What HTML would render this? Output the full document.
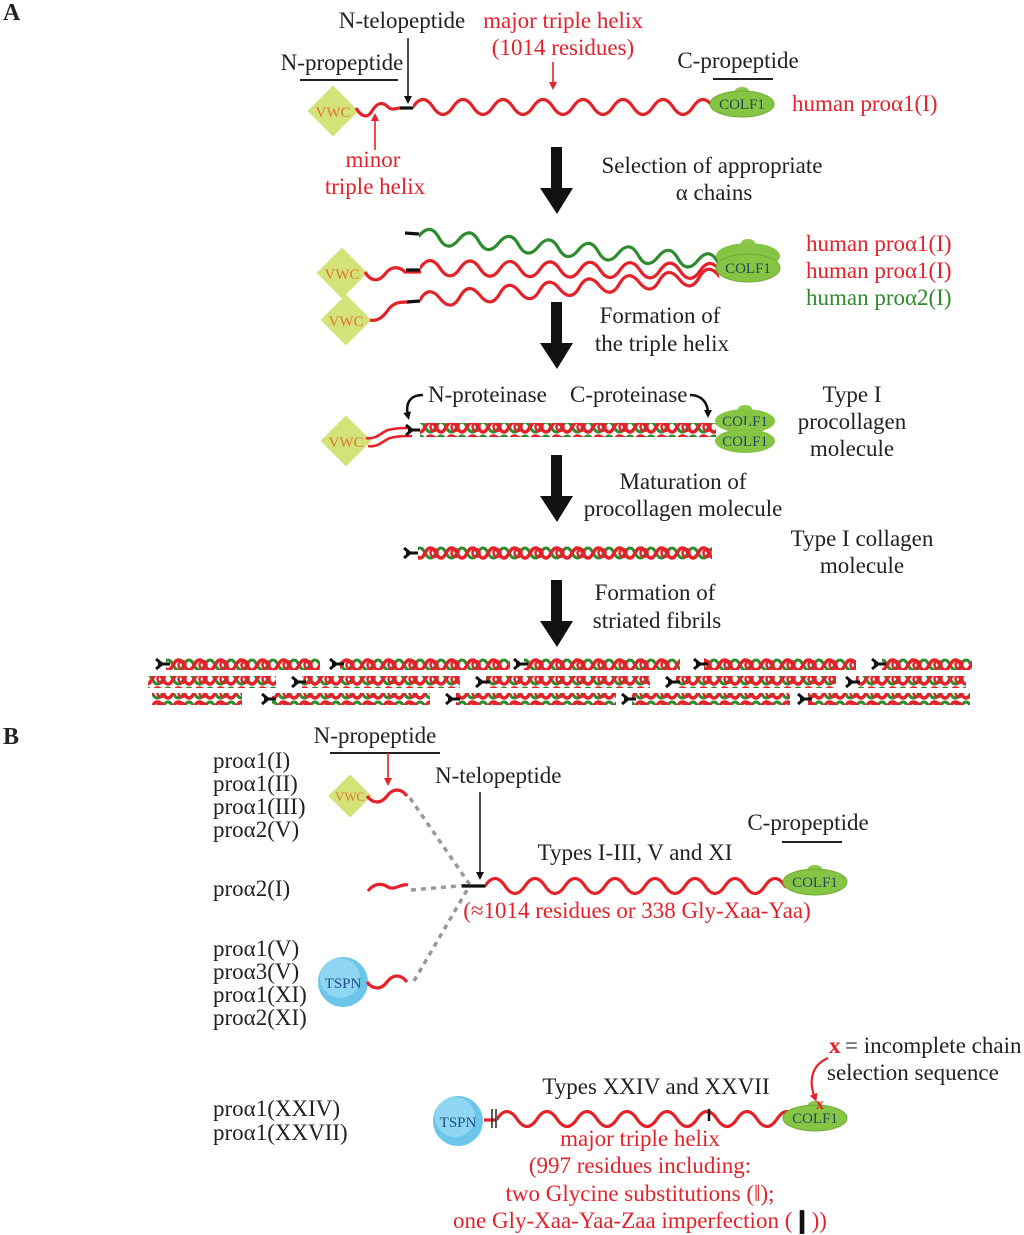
<!DOCTYPE html>
<html><head><meta charset="utf-8"><style>
html,body{margin:0;padding:0;background:#fff;}
svg{display:block;}
text{font-family:"Liberation Serif",serif;font-size:23px;fill:#222;}
.r{fill:#e3222a;}
.g{fill:#2e8b2e;}
.c{text-anchor:middle;}
</style></head><body>
<svg width="1024" height="1235" viewBox="0 0 1024 1235" xmlns="http://www.w3.org/2000/svg">
<defs>
<path id="w10" d="M0 0 c6.7 -10 13.3 -10 20 0 c6.7 10 13.3 10 20 0 c6.7 -10 13.3 -10 20 0 c6.7 10 13.3 10 20 0 c6.7 -10 13.3 -10 20 0 c6.7 10 13.3 10 20 0 c6.7 -10 13.3 -10 20 0 c6.7 10 13.3 10 20 0 c6.7 -10 13.3 -10 20 0 c6.7 10 13.3 10 20 0 c6.7 -10 13.3 -10 20 0 c6.7 10 13.3 10 20 0 c6.7 -10 13.3 -10 20 0 c6.7 10 13.3 10 20 0 c6.7 -10 13.3 -10 20 0 c6.7 10 13.3 10 20 0 c6.7 -10 13.3 -10 20 0 c6.7 10 13.3 10 20 0" fill="none" stroke-width="3.2" stroke-linecap="round"/>
<pattern id="hx" patternUnits="userSpaceOnUse" width="21" height="14" x="0" y="0">
<path d="M0 2 C5 2 5 12 10.5 12 C16 12 16 2 21 2" fill="none" stroke="#2e8b2e" stroke-width="3"/>
<path d="M0 12 C5 12 5 2 10.5 2 C16 2 16 12 21 12" fill="none" stroke="#e3222a" stroke-width="3.4"/>
<ellipse cx="14" cy="7" rx="3.5" ry="4" fill="none" stroke="#e3222a" stroke-width="2.5"/>
</pattern>
<clipPath id="cw"><rect x="0" y="-20" width="300" height="40"/></clipPath>
<g id="vwc"><rect x="-18" y="-18" width="36" height="36" fill="#d4e27a" transform="rotate(45)"/><text x="0" y="6" class="c" style="font-size:15px;fill:#e0762a">VWC</text></g>
<g id="colf"><ellipse cx="0" cy="-13" rx="7" ry="4" fill="#8cc84a"/><ellipse cx="0" cy="0" rx="32" ry="13" fill="#86c443" stroke="#6faa35"/><text x="0" y="5" class="c" style="font-size:15px;fill:#1e4a5a">COLF1</text></g>
<g id="tspn"><circle r="25" fill="#6cc6ea"/><circle r="20" cx="-3" cy="-4" fill="#8ed6f2"/><text x="0" y="6" class="c" style="font-size:15px;fill:#1f4e8a">TSPN</text></g>
<g id="fork"><path d="M-2 0 L10 0 M2 0 L-4 -5 M2 0 L-4 5" stroke="#111" stroke-width="3" fill="none"/></g>
<marker id="ah" markerWidth="8" markerHeight="8" refX="4" refY="4" orient="auto" markerUnits="userSpaceOnUse"><path d="M0 0 L8 4 L0 8 Z" fill="#111"/></marker>
<marker id="ahr" markerWidth="8" markerHeight="8" refX="4" refY="4" orient="auto" markerUnits="userSpaceOnUse"><path d="M0 0 L8 4 L0 8 Z" fill="#e3222a"/></marker>
</defs>

<!-- A -->
<text x="3" y="20" style="font-weight:bold;font-size:24px">A</text>
<text x="402" y="28" class="c">N-telopeptide</text>
<text x="563" y="28" class="c r">major triple helix</text>
<text x="563" y="55" class="c r">(1014 residues)</text>
<line x1="553" y1="62" x2="553" y2="86" stroke="#e3222a" stroke-width="1.6" marker-end="url(#ahr)"/>
<text x="342" y="70" class="c">N-propeptide</text>
<line x1="300" y1="80" x2="398" y2="80" stroke="#222" stroke-width="2"/>
<line x1="408" y1="38" x2="408" y2="100" stroke="#222" stroke-width="1.6" marker-end="url(#ah)"/>
<text x="738" y="68" class="c">C-propeptide</text>
<line x1="713" y1="79" x2="773" y2="79" stroke="#222" stroke-width="2"/>

<use href="#vwc" x="333" y="111"/>
<path d="M356 108 c6 10 12 10 16 3 c5 -8 10 -10 16 -4 c4 4 8 1 12 1" fill="none" stroke="#e3222a" stroke-width="3.2"/>
<line x1="400" y1="108" x2="413" y2="108" stroke="#111" stroke-width="3.2"/>
<g transform="translate(413 107)"><use href="#w10" stroke="#e3222a" clip-path="url(#cw)"/></g>
<use href="#colf" x="742" y="104"/>
<text x="792" y="111" class="r">human proα1(I)</text>
<line x1="375" y1="150" x2="375" y2="117" stroke="#e3222a" stroke-width="1.6" marker-end="url(#ahr)"/>
<text x="373" y="167" class="c r">minor</text>
<text x="375" y="194" class="c r">triple helix</text>

<!-- big arrows -->
<g fill="#111">
<rect x="551" y="147" width="11" height="45"/><path d="M540 188 L573 188 L557 214 Z"/>
<rect x="551" y="302" width="11" height="45"/><path d="M540 343 L573 343 L557 369 Z"/>
<rect x="551" y="455" width="11" height="45"/><path d="M540 496 L573 496 L557 522 Z"/>
<rect x="551" y="580" width="11" height="45"/><path d="M540 621 L573 621 L557 647 Z"/>
</g>
<text x="712" y="173" class="c">Selection of appropriate</text>
<text x="714" y="200" class="c">α chains</text>

<!-- step 2 -->
<line x1="405" y1="233" x2="419" y2="234" stroke="#111" stroke-width="3.2"/>
<g transform="translate(419 236) rotate(5)"><use href="#w10" stroke="#2e8b2e" clip-path="url(#cw)"/></g>
<use href="#vwc" x="342" y="273"/>
<path d="M365 272 c6 10 14 10 20 2 c6 -8 14 -8 20 -2 l16 0" fill="none" stroke="#e3222a" stroke-width="3.2"/>
<line x1="406" y1="270" x2="420" y2="270" stroke="#111" stroke-width="3.2"/>
<g transform="translate(420 268) rotate(0.6)"><use href="#w10" stroke="#e3222a" clip-path="url(#cw)"/></g>
<use href="#vwc" x="346" y="320"/>
<path d="M370 320 c8 2 14 -4 18 -10 c6 -8 12 -8 20 -8" fill="none" stroke="#e3222a" stroke-width="3.2"/>
<line x1="407" y1="302" x2="420" y2="301" stroke="#111" stroke-width="3.2"/>
<g transform="translate(420 300) rotate(-4.6)"><use href="#w10" stroke="#e3222a" clip-path="url(#cw)"/></g>
<g transform="translate(748 256)"><ellipse cx="0" cy="-13" rx="7" ry="4" fill="#8cc84a"/><ellipse rx="32" ry="13" fill="#86c443"/></g>
<g transform="translate(748 268)"><ellipse rx="32" ry="14" fill="#86c443" stroke="#6faa35"/><text x="0" y="5" class="c" style="font-size:15px;fill:#1e4a5a">COLF1</text></g>
<text x="806" y="251" class="r">human proα1(I)</text>
<text x="806" y="278" class="r">human proα1(I)</text>
<text x="806" y="305" class="g">human proα2(I)</text>
<text x="660" y="323" class="c">Formation of</text>
<text x="662" y="351" class="c">the triple helix</text>

<!-- step 3 -->
<use href="#vwc" x="346" y="441"/>
<path d="M366 438 c10 2 16 -6 22 -8 c8 -2 14 -2 22 -2 M368 446 c10 2 16 -6 22 -8 c8 -2 14 -2 22 -2" fill="none" stroke="#e3222a" stroke-width="2.6"/>
<use href="#fork" x="410" y="430"/>
<rect x="420" y="423" width="296" height="14" fill="url(#hx)"/>
<g transform="translate(745 421)"><ellipse cx="0" cy="-12" rx="7" ry="4" fill="#8cc84a"/><ellipse rx="30" ry="12" fill="#86c443"/><text x="0" y="5" class="c" style="font-size:15px;fill:#1e4a5a">COLF1</text></g>
<g transform="translate(745 441)"><ellipse cx="0" cy="-12" rx="7" ry="4" fill="#8cc84a"/><ellipse rx="30" ry="12" fill="#86c443"/><text x="0" y="5" class="c" style="font-size:15px;fill:#1e4a5a">COLF1</text></g>
<text x="428" y="402">N-proteinase</text>
<text x="570" y="402">C-proteinase</text>
<path d="M423 395 C410 395 405 403 408 416" fill="none" stroke="#111" stroke-width="2.5" marker-end="url(#ah)"/>
<path d="M690 395 C702 395 708 403 708 414" fill="none" stroke="#111" stroke-width="2.5" marker-end="url(#ah)"/>
<text x="852" y="402" class="c">Type I</text>
<text x="852" y="429" class="c">procollagen</text>
<text x="852" y="456" class="c">molecule</text>
<text x="683" y="489" class="c">Maturation of</text>
<text x="683" y="516" class="c">procollagen molecule</text>

<!-- step 4 -->
<use href="#fork" x="408" y="553"/>
<rect x="418" y="546" width="294" height="14" fill="url(#hx)"/>
<text x="862" y="546" class="c">Type I collagen</text>
<text x="862" y="573" class="c">molecule</text>
<text x="655" y="600" class="c">Formation of</text>
<text x="657" y="628" class="c">striated fibrils</text>

<!-- fibrils -->
<g>
<rect x="166" y="658" width="154" height="12" fill="url(#hx)"/><use href="#fork" x="160" y="664"/>
<rect x="340" y="658" width="170" height="12" fill="url(#hx)"/><use href="#fork" x="334" y="664"/>
<rect x="524" y="658" width="156" height="12" fill="url(#hx)"/><use href="#fork" x="518" y="664"/>
<rect x="704" y="658" width="152" height="12" fill="url(#hx)"/><use href="#fork" x="698" y="664"/>
<rect x="882" y="658" width="90" height="12" fill="url(#hx)"/><use href="#fork" x="876" y="664"/>
<rect x="148" y="676" width="128" height="12" fill="url(#hx)"/>
<rect x="302" y="676" width="158" height="12" fill="url(#hx)"/><use href="#fork" x="296" y="682"/>
<rect x="486" y="676" width="164" height="12" fill="url(#hx)"/><use href="#fork" x="480" y="682"/>
<rect x="676" y="676" width="160" height="12" fill="url(#hx)"/><use href="#fork" x="670" y="682"/>
<rect x="856" y="676" width="110" height="12" fill="url(#hx)"/><use href="#fork" x="850" y="682"/>
<rect x="152" y="693" width="90" height="12" fill="url(#hx)"/>
<rect x="272" y="693" width="158" height="12" fill="url(#hx)"/><use href="#fork" x="266" y="699"/>
<rect x="456" y="693" width="160" height="12" fill="url(#hx)"/><use href="#fork" x="450" y="699"/>
<rect x="632" y="693" width="158" height="12" fill="url(#hx)"/><use href="#fork" x="626" y="699"/>
<rect x="808" y="693" width="162" height="12" fill="url(#hx)"/><use href="#fork" x="802" y="699"/>
</g>

<!-- B -->
<text x="3" y="744" style="font-weight:bold;font-size:24px">B</text>
<text x="375" y="743" class="c">N-propeptide</text>
<line x1="330" y1="753" x2="440" y2="753" stroke="#222" stroke-width="2"/>
<line x1="388" y1="753" x2="388" y2="782" stroke="#e3222a" stroke-width="1.6" marker-end="url(#ahr)"/>
<text x="213" y="768">proα1(I)</text>
<text x="213" y="791">proα1(II)</text>
<text x="213" y="814">proα1(III)</text>
<text x="213" y="837">proα2(V)</text>
<text x="213" y="896">proα2(I)</text>
<text x="213" y="956">proα1(V)</text>
<text x="213" y="979">proα3(V)</text>
<text x="213" y="1002">proα1(XI)</text>
<text x="213" y="1025">proα2(XI)</text>
<text x="213" y="1116">proα1(XXIV)</text>
<text x="213" y="1140">proα1(XXVII)</text>
<g transform="translate(350 796) scale(0.85)"><rect x="-18" y="-18" width="36" height="36" fill="#d4e27a" transform="rotate(45)"/><text x="0" y="6" class="c" style="font-size:15px;fill:#e0762a">VWC</text></g>
<path d="M367 796 c6 8 14 8 20 0 c6 -8 14 -8 20 0" fill="none" stroke="#e3222a" stroke-width="3.2"/>
<text x="435" y="783">N-telopeptide</text>
<line x1="480" y1="792" x2="480" y2="876" stroke="#222" stroke-width="1.6" marker-end="url(#ah)"/>
<g stroke="#999" stroke-width="3.5" stroke-dasharray="5 5" fill="none">
<path d="M410 798 L470 885"/><path d="M411 890 L470 885"/><path d="M414 981 L470 885"/>
</g>
<path d="M368 891 c6 -8 14 -8 20 -4 c6 4 14 -4 20 -2" fill="none" stroke="#e3222a" stroke-width="3.2"/>
<use href="#tspn" x="343" y="982"/>
<path d="M367 982 c6 8 14 8 20 0 c6 -8 14 -8 20 0" fill="none" stroke="#e3222a" stroke-width="3.2"/>
<line x1="462" y1="886" x2="485" y2="886" stroke="#111" stroke-width="3.2"/>
<g transform="translate(485 886)"><use href="#w10" stroke="#e3222a" clip-path="url(#cw)"/></g>
<use href="#colf" x="815" y="882"/>
<text x="635" y="860" class="c">Types I-III, V and XI</text>
<text x="808" y="830" class="c">C-propeptide</text>
<line x1="782" y1="842" x2="842" y2="842" stroke="#222" stroke-width="2"/>
<text x="637" y="918" class="c r">(≈1014 residues or 338 Gly-Xaa-Yaa)</text>

<use href="#tspn" x="458" y="1121"/>
<line x1="484" y1="1120" x2="496" y2="1120" stroke="#e3222a" stroke-width="3.2"/>
<line x1="492" y1="1109" x2="492" y2="1128" stroke="#222" stroke-width="1.5"/>
<line x1="496" y1="1109" x2="496" y2="1128" stroke="#222" stroke-width="1.5"/>
<g transform="translate(497 1119)"><use href="#w10" stroke="#e3222a" clip-path="url(#cw)"/></g>
<line x1="709" y1="1109" x2="709" y2="1121" stroke="#111" stroke-width="2.5"/>
<use href="#colf" x="815" y="1118"/>
<text x="820" y="1109" class="c" style="fill:#e3222a;font-weight:bold;font-size:16px">x</text>
<text x="656" y="1094" class="c">Types XXIV and XXVII</text>
<text x="640" y="1146" class="c r">major triple helix</text>
<text x="640" y="1173" class="c r">(997 residues including:</text>
<text x="640" y="1201" class="c r">two Glycine substitutions (‖);</text>
<text x="640" y="1228" class="c r">one Gly-Xaa-Yaa-Zaa imperfection (<tspan style="fill:#111;font-weight:bold">❙</tspan>))</text>
<text x="829" y="1053" style="fill:#e3222a;font-weight:bold">x</text>
<text x="845" y="1053">= incomplete chain</text>
<text x="827" y="1080">selection sequence</text>
<path d="M828 1058 C812 1065 808 1080 815 1098" fill="none" stroke="#e3222a" stroke-width="2.2" marker-end="url(#ahr)"/>
</svg>
</body></html>
